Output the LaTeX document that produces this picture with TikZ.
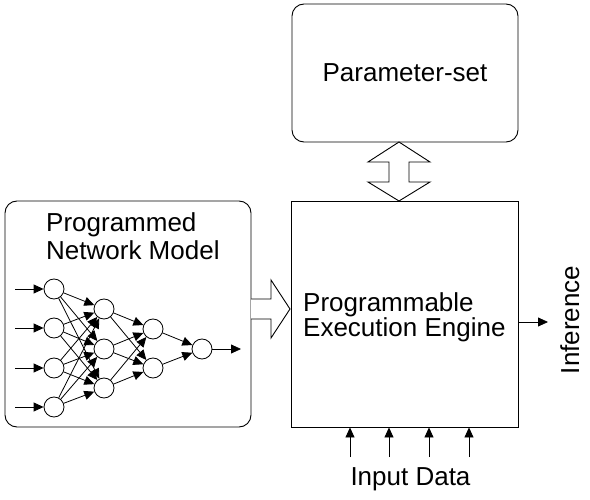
\documentclass[tikz,border=0pt]{standalone}
\usepackage{fontspec}
\setmainfont{Liberation Sans}
\usetikzlibrary{arrows.meta,calc}

\begin{document}
\begin{tikzpicture}[x=1pt,y=-1pt,
  neuron/.style={draw,circle,minimum size=20pt,inner sep=0pt,line width=0.8pt},
  syn/.style={-{Triangle[length=10pt,width=9pt]},line width=0.8pt},
  blockbox/.style={draw,line width=0.9pt,inner sep=0pt},
  blockarrow/.style={draw,fill=white,line width=0.9pt,line join=miter},
  bigtext/.style={font=\fontsize{26}{28}\selectfont,inner sep=0pt}]
\useasboundingbox (0,0) rectangle (590,500);

\node[blockbox,rounded corners=12pt,minimum width=226pt,minimum height=138pt,font=\fontsize{26}{28}\selectfont] (param) at (405,73) {Parameter-set};
\node[blockbox,minimum width=227pt,minimum height=226pt] (engine) at (404.5,314) {};
\node[blockbox,rounded corners=12pt,minimum width=246pt,minimum height=226pt] (model) at (128,314) {};

\node[bigtext,align=left,anchor=north west] (modeltext) at (46,212) {Programmed\\Network Model};
\node[bigtext,font=\fontsize{26}{24}\selectfont,align=left,anchor=north west] (enginetext) at (303,292) {Programmable\\Execution Engine};

% parameter-set <-> engine
\coordinate (ptop) at (399,142);
\draw[blockarrow] (ptop) -- ++(31,20) -- ++(-21,0) -- ++(0,20) -- ++(21,0) -- (399,201)
  -- ++(-31,-19) -- ++(21,0) -- ++(0,-20) -- ++(-21,0) -- cycle;

% model => engine
\coordinate (mtail) at (251,309);
\coordinate (mtip) at (290,309);
\draw[blockarrow] ($(mtail)+(0,-10)$) -- ++(20,0) -- ++(0,-19) -- (mtip) -- ++(-19,29) -- ++(0,-19) -- ++(-20,0);

% network
\node[neuron] (n11) at (54,289) {};
\node[neuron] (n12) at (54,328) {};
\node[neuron] (n13) at (54,368) {};
\node[neuron] (n14) at (54,407) {};
\node[neuron] (n21) at (104,309) {};
\node[neuron] (n22) at (104,349) {};
\node[neuron] (n23) at (104,388) {};
\node[neuron] (n31) at (153,329) {};
\node[neuron] (n32) at (153,368) {};
\node[neuron] (n41) at (202,349) {};

\coordinate (in1) at (15,289);
\coordinate (in2) at (15,328);
\coordinate (in3) at (15,368);
\coordinate (in4) at (15,407);
\coordinate (out) at (241,349);

\draw[syn] (in1) -- (n11);
\draw[syn] (in2) -- (n12);
\draw[syn] (in3) -- (n13);
\draw[syn] (in4) -- (n14);
\draw[syn] (n11) -- (n21);
\draw[syn] (n11) -- (n22);
\draw[syn] (n11) -- (n23);
\draw[syn] (n12) -- (n21);
\draw[syn] (n12) -- (n22);
\draw[syn] (n12) -- (n23);
\draw[syn] (n13) -- (n21);
\draw[syn] (n13) -- (n22);
\draw[syn] (n13) -- (n23);
\draw[syn] (n14) -- (n21);
\draw[syn] (n14) -- (n22);
\draw[syn] (n14) -- (n23);
\draw[syn] (n21) -- (n31);
\draw[syn] (n21) -- (n32);
\draw[syn] (n22) -- (n31);
\draw[syn] (n22) -- (n32);
\draw[syn] (n23) -- (n31);
\draw[syn] (n23) -- (n32);
\draw[syn] (n31) -- (n41);
\draw[syn] (n32) -- (n41);
\draw[syn] (n41) -- (out);

% inference
\coordinate (infend) at (548,322);
\draw[syn] (infend -| engine.east) -- (infend);
\node[bigtext,rotate=90,anchor=base] (infer) at (579,320) {Inference};

% input data
\coordinate (d1) at (350,457);
\coordinate (d2) at (389,457);
\coordinate (d3) at (429,457);
\coordinate (d4) at (469,457);
\draw[syn] (d1) -- (d1 |- engine.south);
\draw[syn] (d2) -- (d2 |- engine.south);
\draw[syn] (d3) -- (d3 |- engine.south);
\draw[syn] (d4) -- (d4 |- engine.south);
\node[bigtext,anchor=base] (inputs) at (410.5,485) {Input Data};

\end{tikzpicture}
\end{document}
